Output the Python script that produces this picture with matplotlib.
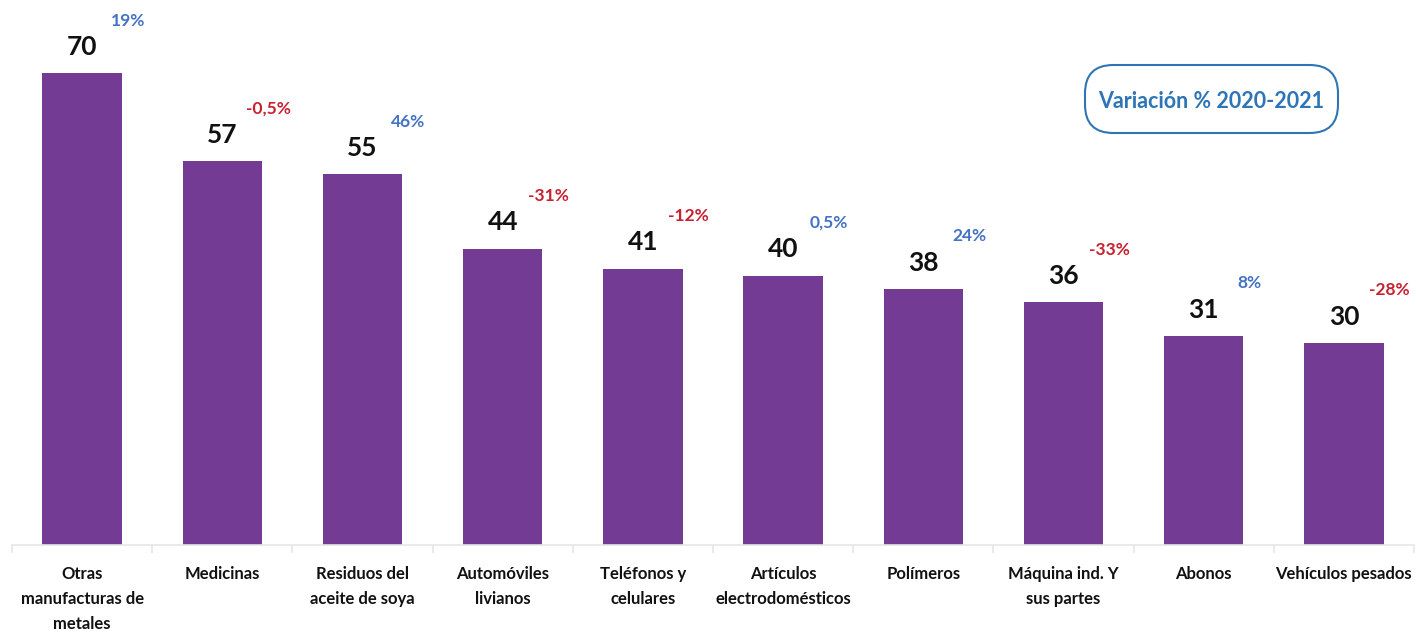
import matplotlib
matplotlib.use("Agg")
import matplotlib.pyplot as plt
from matplotlib.patches import FancyBboxPatch

categories = ["Otras\nmanufacturas de\nmetales", "Medicinas", "Residuos del\naceite de soya",
              "Automóviles\nlivianos", "Teléfonos y\ncelulares", "Artículos\nelectrodomésticos",
              "Polímeros", "Máquina ind. Y\nsus partes", "Abonos", "Vehículos pesados"]
values = [70, 57, 55, 44, 41, 40, 38, 36, 31, 30]
pct_labels = ["19%", "-0,5%", "46%", "-31%", "-12%", "0,5%", "24%", "-33%", "8%", "-28%"]
pct_values = [19, -0.5, 46, -31, -12, 0.5, 24, -33, 8, -28]
box_text = "Variación % 2020-2021"

plt.rcParams["font.family"] = ["Lato", "DejaVu Sans"]

fig = plt.figure(figsize=(14.16, 6.35), dpi=100)
ax = fig.add_axes([12/1416, 90/635, 1402/1416, 545/635])
x = list(range(len(values)))
ax.bar(x, values, width=0.565, color="#733B93", zorder=2)
ax.set_xlim(-0.5, len(values) - 0.5)
ax.set_ylim(0, 80.9)

for xi, v, pl, pv in zip(x, values, pct_labels, pct_values):
    ax.annotate(str(v), (xi, v), xytext=(0, 19), textcoords="offset points",
                ha="center", va="center", fontsize=19, fontweight="bold", color="#111111")
    ax.annotate(pl, (xi, v), xytext=(33, 38), textcoords="offset points",
                ha="center", va="center", fontsize=12.5, fontweight="bold",
                color="#4472C4" if pv >= 0 else "#C8202F")

for s in ["top", "right", "left"]:
    ax.spines[s].set_visible(False)
ax.spines["bottom"].set_color("#e6e6e6")
ax.spines["bottom"].set_linewidth(1.2)
ax.set_yticks([])
ax.set_xticks([i - 0.5 for i in range(len(values) + 1)])
ax.set_xticklabels([])
ax.tick_params(axis="x", length=6, color="#e6e6e6", width=1.2)
for xi, c in zip(x, categories):
    ax.annotate(c, (xi, 0), xytext=(0, -15), textcoords="offset points",
                ha="center", va="top", fontsize=12, fontweight="bold", color="#111111",
                linespacing=1.7)

box = FancyBboxPatch((1085/1416, (635-133)/635), (1338-1085)/1416, (133-65)/635,
                     boxstyle="round,pad=0,rounding_size=0.02", transform=fig.transFigure,
                     facecolor="white", edgecolor="#2E75B6", linewidth=1.5, mutation_aspect=1416/635)
fig.patches.append(box)
fig.text(1211/1416, (635-101)/635, box_text, ha="center", va="center", fontsize=15.5,
         fontweight="bold", color="#2E75B6")

fig.savefig("out.png", dpi=100)
